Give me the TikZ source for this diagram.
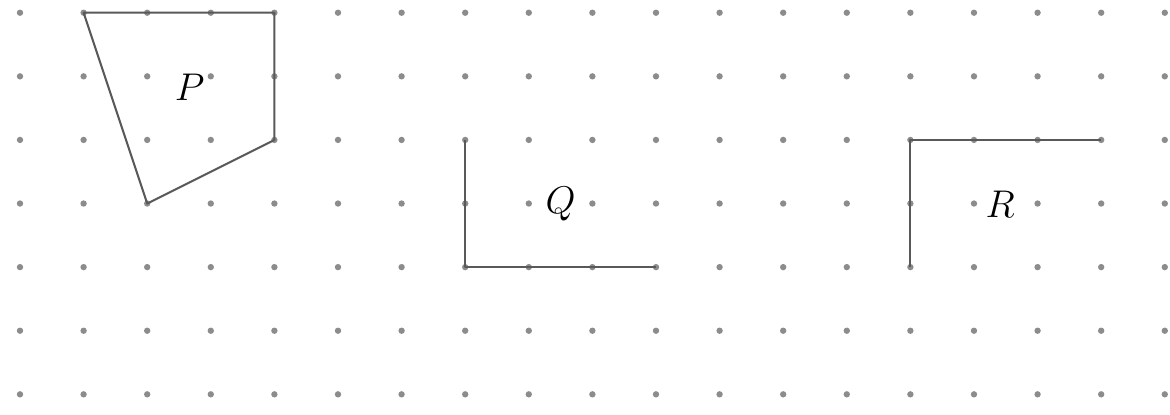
\documentclass[tikz,border=0pt]{standalone}
\begin{document}
\begin{tikzpicture}[x=1cm,y=-1cm,
  dotstyle/.style={fill=black!45},
  shapeline/.style={draw=black!65,line width=0.9pt,line join=round},
  lbl/.style={font=\fontsize{17.5}{20}\selectfont}]
\useasboundingbox (-0.3145,-0.2) rectangle (18.082,6.310);
\fill[white] (-0.3145,-0.2) rectangle (18.082,6.310);
% dot grid
\foreach \i in {0,...,18}
  \foreach \j in {0,...,6}
    \fill[dotstyle] (\i,\j) circle (0.05);
% P
\coordinate (p1) at (1,0);
\coordinate (p2) at (4,0);
\coordinate (p3) at (4,2);
\coordinate (p4) at (2,3);
\draw[shapeline] (p1) -- (p2) -- (p3) -- (p4) -- cycle;
\node[lbl] (P) at (2.67,1.17) {$P$};
% Q
\coordinate (q1) at (7,2);
\coordinate (q2) at (7,4);
\coordinate (q3) at (10,4);
\draw[shapeline] (q1) -- (q2) -- (q3);
\node[lbl] (Q) at (8.5,3.01) {$Q$};
% R
\coordinate (r1) at (14,4);
\coordinate (r2) at (14,2);
\coordinate (r3) at (17,2);
\draw[shapeline] (r1) -- (r2) -- (r3);
\node[lbl] (R) at (15.41,3.01) {$R$};
\end{tikzpicture}
\end{document}
